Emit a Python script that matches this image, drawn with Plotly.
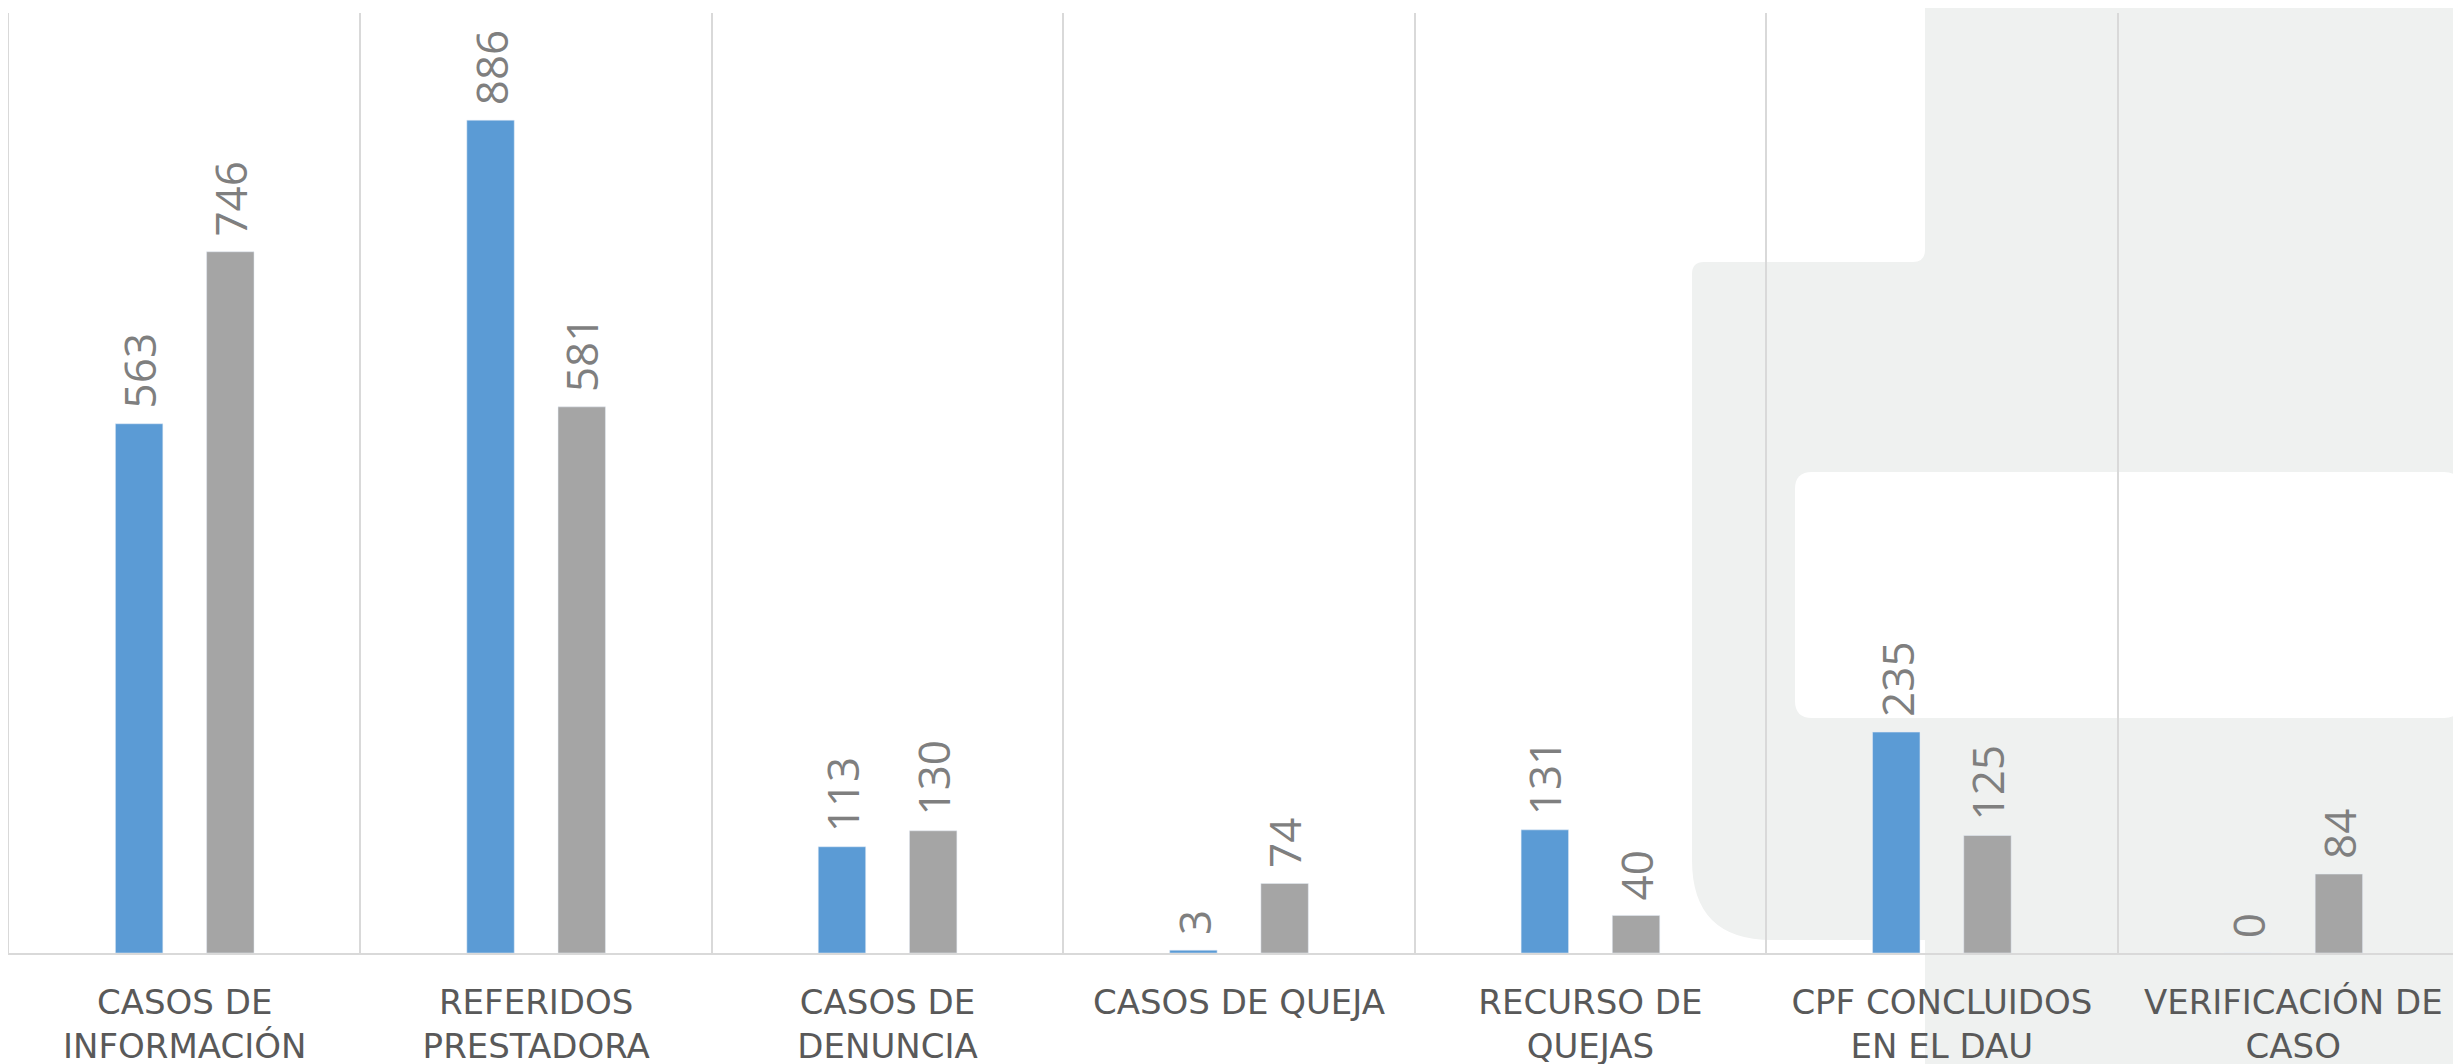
import plotly.graph_objects as go

categories = [
    "CASOS DE<br>INFORMACIÓN",
    "REFERIDOS<br>PRESTADORA",
    "CASOS DE<br>DENUNCIA",
    "CASOS DE QUEJA",
    "RECURSO DE<br>QUEJAS",
    "CPF CONCLUIDOS<br>EN EL DAU",
    "VERIFICACIÓN DE<br>CASO",
]
serie_1 = [563, 886, 113, 3, 131, 235, 0]
serie_2 = [746, 581, 130, 74, 40, 125, 84]

BLUE = "#5B9BD5"
GREY = "#A5A5A5"
LABEL_GREY = "#7F7F7F"
AXIS_TXT = "#595959"
LINE = "#D9D9D9"
BG_GREY = "#EFF1F0"

W, H = 2461, 1064
ML, MR, MT, MB = 1, 0, 5, 119
PW = W - ML - MR
PH = H - MT - MB
# screen position of the plot area (page adds an 8px body margin)
SX0, SY0 = 8 + ML, 8 + MT + PH


def to_paper(points):
    out = []
    for tok in points:
        if isinstance(tok, str):
            out.append(tok)
        else:
            x, y = tok
            out.append(f"{(x - SX0) / PW:.5f},{(SY0 - y) / PH:.5f}")
    return " ".join(out)


grey_path = to_paper([
    "M", (1925, 0), "L", (2480, 0), "L", (2480, 1080), "L", (1925, 1080),
    "L", (1925, 940), "L", (1772, 940), "Q", (1692, 940), (1692, 860),
    "L", (1692, 274), "Q", (1692, 262), (1704, 262),
    "L", (1913, 262), "Q", (1925, 262), (1925, 250), "Z",
])
white_path = to_paper([
    "M", (1812, 472), "L", (2444, 472), "Q", (2461, 472), (2461, 489),
    "L", (2461, 701), "Q", (2461, 718), (2444, 718),
    "L", (1812, 718), "Q", (1795, 718), (1795, 701),
    "L", (1795, 489), "Q", (1795, 472), (1812, 472), "Z",
])

fig = go.Figure()
fig.add_trace(go.Bar(x=categories, y=serie_1, name="Serie 1", marker_color=BLUE))
fig.add_trace(go.Bar(x=categories, y=serie_2, name="Serie 2", marker_color=GREY))

offset = 0.1297
annotations = []
for i in range(len(categories)):
    for val, dx in ((serie_1[i], -offset), (serie_2[i], offset)):
        annotations.append(dict(
            x=i + dx, y=val, xref="x", yref="y", text=str(val),
            textangle=-90, showarrow=False, xanchor="center", yanchor="bottom",
            yshift=13, font=dict(family="Open Sans", size=44, color=LABEL_GREY),
        ))

fig.update_layout(
    width=W, height=H,
    margin=dict(l=ML, r=MR, t=MT, b=MB, pad=0),
    paper_bgcolor="white", plot_bgcolor="rgba(0,0,0,0)",
    barmode="group", bargap=0.481, bargroupgap=0.48,
    showlegend=False,
    annotations=annotations,
    shapes=[
        dict(type="path", path=grey_path, xref="paper", yref="paper",
             fillcolor=BG_GREY, line=dict(width=0), layer="below"),
        dict(type="path", path=white_path, xref="paper", yref="paper",
             fillcolor="white", line=dict(width=0), layer="below"),
    ],
)
fig.update_xaxes(
    type="category", range=[-0.5, 6.5],
    tickson="boundaries", showgrid=True, gridcolor=LINE, gridwidth=1.5,
    showline=True, linecolor=LINE, linewidth=2, ticks="",
    tickfont=dict(family="DejaVu Sans", size=34, color=AXIS_TXT),
    ticklabelstandoff=18,
)
fig.update_yaxes(
    range=[0, 1000], showgrid=False, zeroline=False, showticklabels=False,
    showline=True, linecolor=LINE, linewidth=1.5,
)

fig.write_html("out.html")
